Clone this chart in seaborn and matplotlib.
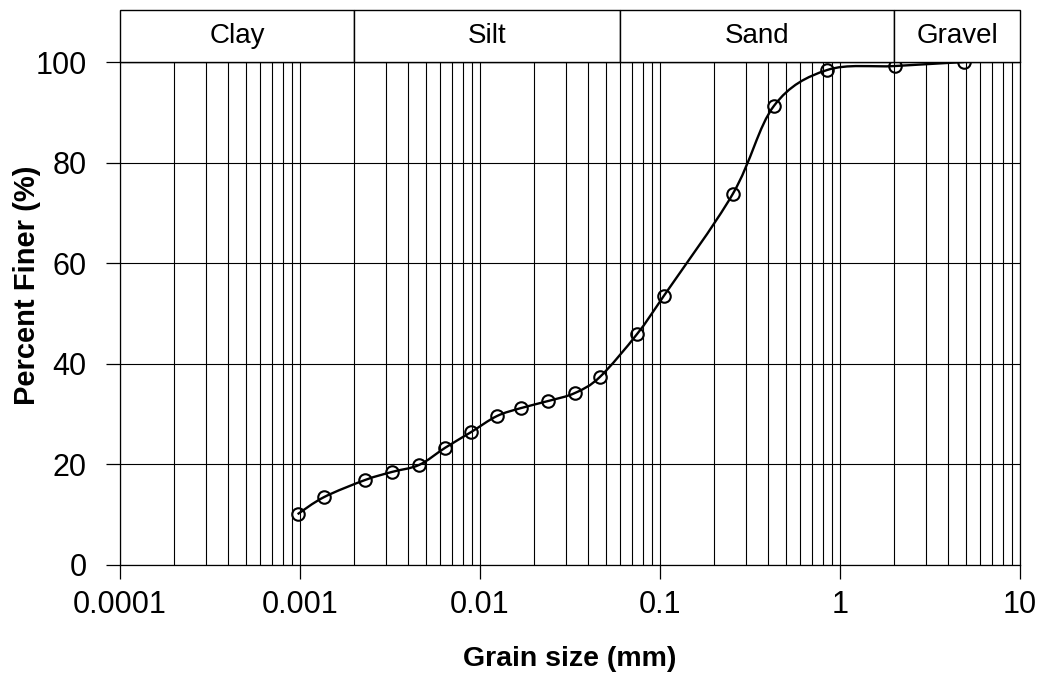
import numpy as np
import matplotlib
matplotlib.use("Agg")
import matplotlib.pyplot as plt
import matplotlib.ticker as mticker
import matplotlib.transforms as mtrans
from matplotlib.patches import Rectangle, PathPatch
from matplotlib.path import Path
import seaborn as sns

# ---- data ----
grain_size = [0.00097, 0.00136, 0.0023, 0.00324, 0.00459, 0.0064, 0.0089, 0.0124,
              0.0169, 0.0239, 0.0337, 0.0464, 0.0745, 0.105, 0.254, 0.43, 0.847,
              2.02, 4.88]
percent_finer = [10.1, 13.5, 16.9, 18.5, 19.9, 23.3, 26.4, 29.6, 31.2, 32.6, 34.2,
                 37.4, 45.9, 53.5, 73.8, 91.3, 98.4, 99.2, 100.0]
class_names = ["Clay", "Silt", "Sand", "Gravel"]
class_bounds = [0.0001, 0.002, 0.06, 2, 10]
x_ticks = [0.0001, 0.001, 0.01, 0.1, 1, 10]
x_tick_labels = ["0.0001", "0.001", "0.01", "0.1", "1", "10"]
y_ticks = [0, 20, 40, 60, 80, 100]

sns.set_theme(style="white")
plt.rcParams["font.family"] = ["Liberation Sans", "DejaVu Sans"]
plt.rcParams.update({"text.color": "black", "axes.labelcolor": "black",
                     "xtick.color": "black", "ytick.color": "black"})

fig = plt.figure(figsize=(10.42, 6.73), dpi=100)
ax = fig.add_axes([120 / 1042, 1 - 565 / 673, 900 / 1042, 503 / 673])

ax.set_xscale("log")
ax.set_xlim(1e-4, 10)
ax.set_ylim(0, 100)

# smooth curve (Excel-style Bezier through the points, in log-x space)
u = np.log10(np.asarray(grain_size))
v = np.asarray(percent_finer)
n = len(u)
verts = [(u[0], v[0])]
codes = [Path.MOVETO]
for i in range(n - 1):
    p0 = (u[max(i - 1, 0)], v[max(i - 1, 0)])
    p1 = (u[i], v[i])
    p2 = (u[i + 1], v[i + 1])
    p3 = (u[min(i + 2, n - 1)], v[min(i + 2, n - 1)])
    c1 = (p1[0] + (p2[0] - p0[0]) / 6, p1[1] + (p2[1] - p0[1]) / 6)
    c2 = (p2[0] - (p3[0] - p1[0]) / 6, p2[1] - (p3[1] - p1[1]) / 6)
    verts += [c1, c2, p2]
    codes += [Path.CURVE4] * 3
verts = [(10 ** a, b) for a, b in verts]
ax.add_patch(PathPatch(Path(verts, codes), facecolor="none", edgecolor="black",
                       lw=1.7, zorder=3, clip_on=False))

sns.lineplot(x=grain_size, y=percent_finer, ax=ax, linestyle="none", marker="o",
             markersize=9, markerfacecolor="none", markeredgecolor="black",
             markeredgewidth=1.5, color="black", zorder=4, clip_on=False)

# grid
ax.xaxis.set_major_locator(mticker.FixedLocator(x_ticks))
ax.xaxis.set_major_formatter(mticker.FixedFormatter(x_tick_labels))
ax.xaxis.set_minor_locator(mticker.LogLocator(base=10, subs=np.arange(2, 10), numticks=20))
ax.xaxis.set_minor_formatter(mticker.NullFormatter())
ax.set_yticks(y_ticks)
ax.grid(True, which="both", axis="x", color="black", lw=0.8)
ax.grid(True, which="major", axis="y", color="black", lw=0.8)
ax.set_axisbelow(True)

for s in ax.spines.values():
    s.set_color("black")
    s.set_linewidth(0.9)

ax.tick_params(axis="x", which="major", direction="out", length=10, width=0.9,
               color="black", labelcolor="black", labelsize=22, pad=8, bottom=True)
ax.tick_params(axis="x", which="minor", length=0)
ax.tick_params(axis="y", which="major", direction="out", length=10, width=0.9,
               color="black", labelcolor="black", labelsize=22, pad=14, left=True)

ax.set_xlabel("Grain size (mm)", fontsize=20.5, fontweight="bold", labelpad=19,
              color="black")
ax.set_ylabel("Percent Finer (%)", fontsize=21, fontweight="bold", labelpad=-1,
              color="black")
ax.yaxis.set_label_coords(-0.088, (565 - 285) / 503)
ax.yaxis.label.set_horizontalalignment("center")

# soil class band above the plot
trans = mtrans.blended_transform_factory(ax.transData, ax.transAxes)
band_h = 52.5 / 503
for name, x0, x1 in zip(class_names, class_bounds[:-1], class_bounds[1:]):
    ax.add_patch(Rectangle((x0, 1.0), x1 - x0, band_h, transform=trans,
                           facecolor="white", edgecolor="black", lw=1.0,
                           clip_on=False, zorder=5))
    ax.text(np.sqrt(x0 * x1), 1.0 + band_h / 2, name, transform=trans,
            ha="center", va="center", fontsize=20, color="black", zorder=6)

fig.savefig("out.png", dpi=100)
